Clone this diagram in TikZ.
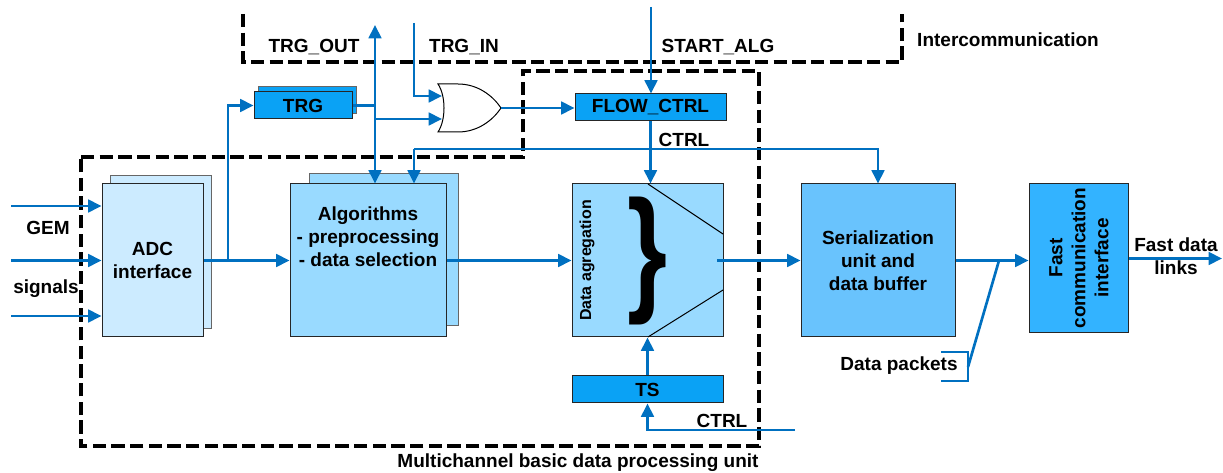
\documentclass[tikz,border=0pt]{standalone}
\usepackage{fontspec}
\usepackage{graphicx}
\setmainfont{Liberation Sans}
\usetikzlibrary{arrows.meta}
\definecolor{lnb}{HTML}{0070C0}
\definecolor{adcf}{HTML}{CCEBFF}
\definecolor{algf}{HTML}{99DAFF}
\definecolor{serf}{HTML}{69C3FD}
\definecolor{fastf}{HTML}{33B3FF}
\definecolor{smf}{HTML}{0AA2F5}
\begin{document}
\begin{tikzpicture}[x=0.75pt,y=-0.75pt,
  >={Triangle[length=10pt,width=9.5pt]},
  sz/.style 2 args={minimum width=#1*0.75pt,minimum height=#2*0.75pt,inner sep=0pt},
  box/.style={draw=black!85,line width=0.75pt},
  bk/.style={draw=black!60,line width=0.75pt},
  txt/.style={font=\bfseries\fontsize{14.25}{17.25}\selectfont,align=center,inner sep=0pt},
  conn/.style={draw=lnb,line width=2pt,->},
  wire/.style={draw=lnb,line width=2pt},
  thinl/.style={draw=black,line width=0.75pt},
  dsh/.style={draw=black,line width=2.4pt,dash pattern=on 10pt off 4pt}]
\useasboundingbox (0,0) rectangle (1223,473);

% dashed frames
\draw[dsh] (243,14) -- (243,62) -- (902,62) -- (902,14);
\draw[dsh] (81,157) -- (523,157) -- (523,71) -- (759,71) -- (759,446) -- (81,446) -- cycle;

% boxes
\node[bk,fill=adcf,sz={101}{153}] (adcb) at (160.5,252.5) {};
\node[box,fill=adcf,sz={101}{153},txt] (adc) at (152.5,260.5) {ADC\\interface};
\node[bk,fill=algf,sz={149}{152}] (algb) at (383.5,250) {};
\node[box,fill=algf,sz={156}{153}] (alg) at (368,260.5) {};
\node[txt] (algt) at (368,237) {Algorithms\\- preprocessing\\- data selection};
\node[box,fill=algf,sz={151}{153}] (dagg) at (647.5,260.5) {};
\node[txt,font=\bfseries\fontsize{12}{14}\selectfont,rotate=90] (daggt) at (587,260.5) {Data agregation};
\node[inner sep=0pt] (brace) at (647,261) {\resizebox*{30pt}{96pt}{\bfseries\}}};
\node[box,fill=smf,sz={151}{27},txt] (ts) at (647.5,389.5) {TS};
\node[box,fill=smf,sz={151}{27},txt] (flow) at (650.5,107.5) {FLOW\_CTRL};
\node[bk,fill=smf,sz={98}{27}] (trgb) at (307,100.5) {};
\node[box,fill=smf,sz={98}{27},txt] (trg) at (303,105.5) {TRG};
\node[box,fill=serf,sz={154}{153},txt] (ser) at (878,260.5) {Serialization\\unit and\\data buffer};
\node[box,fill=fastf,sz={99}{149}] (fast) at (1078.5,258.5) {};
\node[txt,rotate=90] (fastt) at (1079,258) {Fast\\communication\\interface};

% data aggregation inner lines
\draw[thinl] (648,184) -- (723,234);
\draw[thinl] (648,337) -- (723,290);

% OR gate
\coordinate (gin1) at (442,96);
\coordinate (gin2) at (442,119);
\coordinate (gout) at (501,108);
\draw[thinl,fill=white] (438,84) -- (458,84) .. controls (478,84) and (493,96) .. (gout)
  .. controls (493,120) and (478,132) .. (458,132) -- (438,132)
  .. controls (446,120) and (446,96) .. (438,84) -- cycle;

% connectors
\coordinate (i1) at (11,206);
\coordinate (i2) at (11,260.5);
\coordinate (i3) at (11,316);
\draw[conn] (i1) -- (i1 -| adc.west);
\draw[conn] (i2) -- (i2 -| adc.west);
\draw[conn] (i3) -- (i3 -| adc.west);
\draw[conn] (adc.east) -- (alg.west);
\coordinate (br) at (228,260.5);
\draw[conn] (br) |- (trg.west);
\coordinate (tj) at (375,105.5);
\draw[wire] (trg.east) -- (tj);
\coordinate (tout) at (375,25);
\draw[conn,<->] (tout) -- (tout |- alg.north);
\coordinate (tb) at (375,119);
\draw[conn] (tb) -- (gin2);
\coordinate (tin) at (414,23);
\draw[conn] (tin) |- (gin1);
\draw[conn] (gout) -- (gout -| flow.west);
\coordinate (sa) at (651,7);
\draw[conn] (sa) -- (sa |- flow.north);
\draw[conn] (flow.south) -- (flow.south |- dagg.north);
\coordinate (cl) at (414,149);
\draw[conn] (cl) -| (ser.north);
\draw[conn] (cl) -- (cl |- alg.north);
\draw[conn] (alg.east) -- (dagg.west);
\coordinate (dout) at (717,260.5);
\draw[conn] (dout) -- (ser.west);
\draw[conn] (ts.north) -- (dagg.south);
\coordinate (cb) at (795,430);
\draw[conn] (cb) -| (ts.south);
\draw[conn] (ser.east) -- (ser.east -| fast.west);
\coordinate (dj) at (999,260.5);
\coordinate (dp) at (968,367);
\coordinate (dpt) at (941,352);
\coordinate (dpb) at (941,381);
\draw[wire] (dj) -- (dp);
\draw[wire] (dpt) -| (dp) |- (dpb);
\coordinate (fo) at (1222,258.5);
\draw[conn] (fast.east) -- (fo);

% labels
\node[txt] (lto) at (314,47) {TRG\_OUT};
\node[txt] (lti) at (464,47) {TRG\_IN};
\node[txt] (lsa) at (718,47) {START\_ALG};
\node[txt] (lic) at (1008,40) {Intercommunication};
\node[txt] (lc1) at (684,140) {CTRL};
\node[txt] (lc2) at (722,421) {CTRL};
\node[txt] (lmc) at (578,463) {Multichannel basic data processing unit};
\node[txt] (lgem) at (48,228) {GEM};
\node[txt] (lsig) at (46,289) {signals};
\node[txt] (ldp) at (899,366) {Data packets};
\node[txt] (lfd) at (1176,256) {Fast data\\links};
\end{tikzpicture}
\end{document}
